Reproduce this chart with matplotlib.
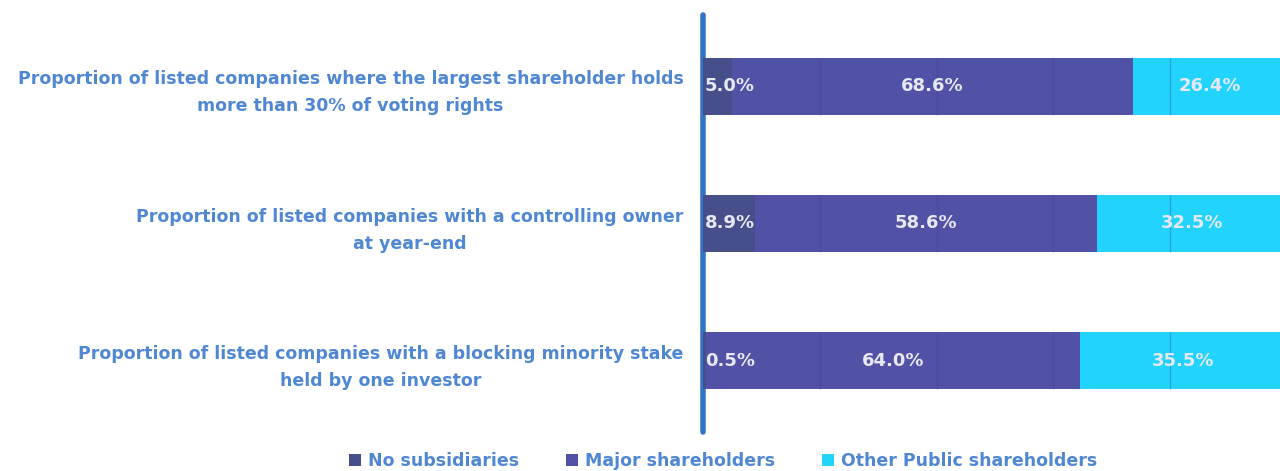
import numpy as np
import matplotlib
matplotlib.use("Agg")
import matplotlib.pyplot as plt

# Data
categories = [
    "Proportion of listed companies where the largest shareholder holds\nmore than 30% of voting rights",
    "Proportion of listed companies with a controlling owner\nat year-end",
    "Proportion of listed companies with a blocking minority stake\nheld by one investor",
]
series_names = ["No subsidiaries", "Major shareholders", "Other Public shareholders"]
no_subs = [5.0, 8.9, 0.5]
major = [68.6, 58.6, 64.0]
other = [26.4, 32.5, 35.5]
colors = ["#474f8a", "#5151a6", "#22d3fd"]
label_blue = "#4f87d3"
bar_h = 0.42

fig = plt.figure(figsize=(12.8, 4.71), dpi=100)
# axes runs a little past the right edge, like the clipped original
ax = fig.add_axes([703 / 1280, 1 - 432 / 471, 584 / 1280, 417 / 471])

y = np.arange(len(categories))
left = np.zeros(len(categories))
for name, vals, col in zip(series_names, [no_subs, major, other], colors):
    vals = np.array(vals)
    ax.barh(y, vals, left=left, height=bar_h, color=col, label=name, zorder=2)
    for yi, l, v in zip(y, left, vals):
        if v < 10:
            ax.text(l + 0.3, yi, f"{v:.1f}%", ha="left", va="center",
                    color="#e6e8f2", fontsize=13, fontweight="bold", zorder=4)
        else:
            ax.text(l + v / 2, yi, f"{v:.1f}%", ha="center", va="center",
                    color="#e6e8f2", fontsize=13, fontweight="bold", zorder=4)
    left += vals

# faint grid lines, only visible across the bars
for yi in y:
    ax.vlines([20, 40, 60, 80], yi - bar_h / 2, yi + bar_h / 2,
              color="#3a3a8c", alpha=0.3, lw=1, zorder=3)

ax.set_xlim(0, 100)
ax.set_ylim(2.52, -0.52)
ax.set_xticks([])
ax.tick_params(axis="y", length=0, pad=14)
ax.set_yticks(y)
ax.set_yticklabels(categories, color=label_blue, fontsize=12.5, fontweight="bold",
                   multialignment="center", linespacing=1.65)

for s in ["top", "right", "bottom"]:
    ax.spines[s].set_visible(False)
ax.spines["left"].set_color("#3473c4")
ax.spines["left"].set_linewidth(4)
ax.spines["left"].set_capstyle("round")
ax.spines["left"].set_zorder(1)

leg = fig.legend(loc="center", bbox_to_anchor=(723 / 1280, 1 - 461 / 471), ncol=3,
                 frameon=False, fontsize=12.5, handlelength=0.7, handleheight=0.7,
                 handletextpad=0.4, columnspacing=2.7)
for t in leg.get_texts():
    t.set_color(label_blue)
    t.set_fontweight("bold")

fig.savefig("out.png", dpi=100)
